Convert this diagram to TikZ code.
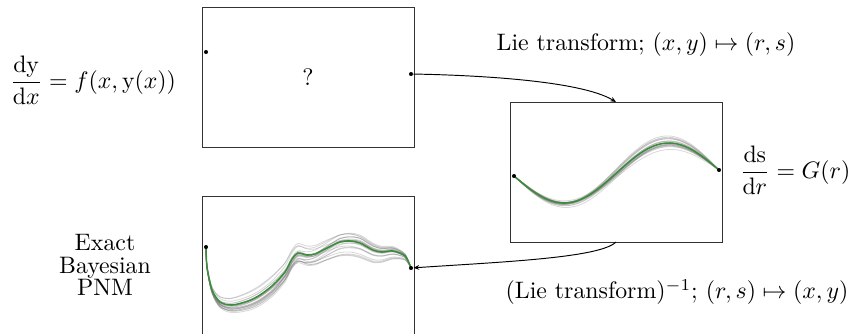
\documentclass[tikz,border=0pt]{standalone}
\usepackage{amsmath}
\usetikzlibrary{arrows.meta}
\definecolor{meangreen}{RGB}{60,140,60}
\newcommand\bthree[2]{plot[smooth,tension=0.5] coordinates {(206,247) (207,{267+0.1*#1+0.05*#2}) (212,{290+0.3*#1+0.2*#2}) (220,{302+0.5*#1+0.4*#2}) (232,{305+0.6*#1+0.6*#2}) (248,{301+0.7*#1+0.8*#2}) (260,{295+0.75*#1+0.9*#2}) (273,{285+0.8*#1+0.9*#2}) (285,{272+0.9*#1+0.7*#2}) (292,{259+0.95*#1+0.5*#2}) (298,{253+#1+0.4*#2}) (307,{255+#1+0.2*#2}) (315,{254+#1+0.05*#2}) (327,{248+#1-0.2*#2}) (340,{242+#1-0.5*#2}) (350,{241+#1-0.6*#2}) (360,{243+0.95*#1-0.7*#2}) (373,{250+0.8*#1-0.6*#2}) (382,{252+0.65*#1-0.5*#2}) (393,{251+0.5*#1-0.4*#2}) (405,{256+0.25*#1-0.2*#2}) (411,268)}}
\begin{document}
\begin{tikzpicture}[x=0.42pt,y=-0.42pt,
  box/.style={draw=black!80, line width=0.4pt, minimum width=89.04pt, minimum height=58.8pt, inner sep=0pt, outer sep=0pt},
  dotm/.style={circle, fill=black, inner sep=0pt, minimum size=1.7pt},
  conn/.style={draw=black, line width=0.4pt, -{Stealth[length=2.4pt,width=2pt]}},
  sample/.style={draw=gray, opacity=0.3, line width=0.35pt},
  meanc/.style={draw=meangreen, line width=0.65pt},
  lbl/.style={inner sep=0pt}]
\useasboundingbox (0,0) rectangle (852,333);

% boxes
\node[box] (b1) at (308,77) {?};
\node[box] (b2) at (616,172) {};
\begin{scope}
  \clip (0,0) rectangle (852,333);
  \node[box] (b3) at (308.5,266) {};
\end{scope}

% sample curves, box 2
\pgfmathsetseed{7}
\foreach \i in {1,...,20}{
  \pgfmathsetmacro\sa{12*rand}
  \pgfmathsetmacro\sb{3*rand}
  \draw[sample] plot[domain=0:1,samples=50,variable=\t]
    ({514+205*\t},{173-6*(\t-0.5)+28.5*sin(360*(0.5-\t))+\sa*\t*sin(180*\t)+\sb*sin(360*\t)});
}
\draw[meanc] plot[domain=0:1,samples=60,variable=\t]
    ({514+205*\t},{173-6*(\t-0.5)+28.5*sin(360*(0.5-\t))});

% sample curves, box 3
\foreach \i in {1,...,22}{
  \pgfmathsetmacro\sa{2+11*rand}
  \pgfmathsetmacro\sb{7*rand}
  \draw[sample] \bthree{\sa}{\sb};
}
\draw[meanc] \bthree{0}{0};

% dots
\node[dotm] (d1l) at (206,52) {};
\node[dotm] (d1r) at (411,74) {};
\node[dotm] (d2l) at (514,176) {};
\node[dotm] (d2r) at (719,170) {};
\node[dotm] (d3l) at (206,247) {};
\node[dotm] (d3r) at (411,268) {};

% labels
\node[lbl] (eq1) at (93,80) {$\dfrac{\mathrm{dy}}{\mathrm{d}x} = f(x,\mathrm{y}(x))$};
\node[lbl] (eq2) at (795,170) {$\dfrac{\mathrm{ds}}{\mathrm{d}r} = G(r)$};
\node[lbl] (t1) at (646,45) {Lie transform; $(x,y)\mapsto(r,s)$};
\node[lbl] (t2) at (677,292) {(Lie transform)$^{-1}$; $(r,s)\mapsto(x,y)$};
\node[lbl, align=center, font=\fontsize{10}{9.6}\selectfont] (pnm) at (105,265) {Exact\\Bayesian\\PNM};

% connectors
\draw[conn] (d1r) .. controls (470,75) and (580,80) .. (b2.north);
\draw[conn] (b2.south) .. controls (600,258) and (500,262) .. (d3r);
\end{tikzpicture}
\end{document}
